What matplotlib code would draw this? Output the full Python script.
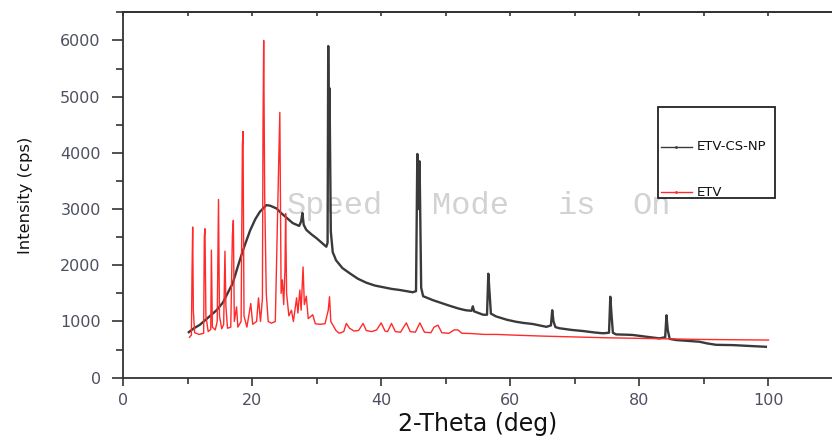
import matplotlib
matplotlib.use("Agg")
import matplotlib.pyplot as plt
from matplotlib.patches import Rectangle
from matplotlib.ticker import MultipleLocator

plt.rcParams["font.family"] = ["DejaVu Sans"]

# ETV-CS-NP pattern (2-theta, counts)
np_x = [10.2, 11.0, 11.9, 13.0, 14.5, 15.5, 16.2, 17.0, 17.8, 18.6, 19.7, 20.5,
        21.2, 22.2, 22.8, 23.8, 24.5, 25.3, 26.3, 27.3, 27.6, 27.8, 28.0, 28.4,
        29.2, 30.0, 31.0, 31.5, 31.7, 31.8, 31.9, 32.0, 32.2, 32.5, 32.8, 33.0,
        34.0, 35.1, 36.4, 37.7, 39.0, 40.3, 41.6, 42.9, 44.9, 45.4, 45.6, 45.8,
        45.95, 46.2, 46.5, 48.0, 49.3, 50.6, 52.0, 53.1, 54.0, 54.2, 54.4, 55.8,
        56.4, 56.6, 56.8, 57.0, 57.8, 59.5, 60.9, 62.0, 63.5, 65.6, 66.3, 66.5,
        66.7, 67.0, 67.6, 69.5, 71.3, 73.0, 74.4, 75.3, 75.5, 75.7, 75.9, 76.4,
        78.0, 79.0, 81.0, 83.1, 84.0, 84.2, 84.4, 84.7, 85.7, 87.5, 89.3, 90.5,
        91.9, 94.5, 97.0, 99.6]
np_y = [810, 880, 940, 1050, 1200, 1340, 1500, 1680, 1980, 2270, 2620, 2820,
        2950, 3070, 3060, 3010, 2930, 2850, 2750, 2700, 2780, 2930, 2720, 2630,
        2550, 2480, 2380, 2330, 2400, 5900, 4000, 5150, 2600, 2230, 2150, 2090,
        1950, 1860, 1760, 1690, 1640, 1610, 1580, 1560, 1520, 1540, 3980, 3000,
        3850, 1600, 1450, 1380, 1330, 1280, 1230, 1200, 1190, 1270, 1180, 1120,
        1120, 1850, 1500, 1140, 1090, 1030, 995, 975, 955, 905, 930, 1200,
        1000, 900, 880, 850, 830, 805, 790, 800, 1440, 1100, 800, 770,
        765, 760, 730, 700, 720, 1110, 850, 690, 670, 655, 640, 610,
        585, 580, 565, 550]

# ETV pattern
etv_x = [10.3, 10.6, 10.7, 10.8, 10.9, 11.1, 11.8, 12.5, 12.6, 12.7, 12.85, 13.2,
         13.6, 13.7, 13.85, 14.3, 14.6, 14.8, 14.95, 15.3, 15.6, 15.8, 15.95, 16.2,
         16.7, 16.95, 17.1, 17.25, 17.6, 17.8, 18.3, 18.5, 18.6, 18.75, 19.2, 19.8,
         20.1, 20.7, 21.0, 21.3, 21.6, 21.7, 21.8, 21.95, 22.2, 22.5, 23.0, 23.6,
         24.1, 24.3, 24.5, 24.7, 24.9, 25.1, 25.2, 25.35, 25.7, 26.1, 26.4, 26.9,
         27.1, 27.4, 27.6, 27.9, 28.1, 28.4, 28.7, 29.4, 29.8, 30.5, 31.3, 31.8,
         32.0, 32.2, 33.0, 33.5, 34.2, 34.6, 35.1, 35.8, 36.5, 37.2, 37.7, 38.5,
         39.3, 40.0, 40.6, 41.0, 41.6, 42.2, 43.0, 43.9, 44.5, 45.3, 46.0, 46.7,
         47.7, 48.2, 48.8, 49.4, 50.5, 51.3, 51.9, 52.5, 54.0, 56.0, 58.0, 60.0,
         65.0, 70.0, 75.0, 80.0, 85.0, 90.0, 95.0, 100.0]
etv_y = [720, 760, 1880, 2680, 1200, 800, 770, 790, 2500, 2650, 1100, 820,
         860, 2270, 900, 850, 1000, 3170, 1100, 870, 950, 2250, 1260, 880,
         900, 2530, 2800, 1000, 1260, 900, 1000, 4130, 4380, 1100, 900, 1320,
         950, 1000, 1420, 1000, 1400, 4530, 6000, 3280, 1500, 1000, 970, 1000,
         3690, 4720, 1500, 1740, 1300, 1930, 2920, 1500, 1100, 1200, 1000, 1420,
         1150, 1560, 1200, 1970, 1300, 1450, 1050, 1120, 960, 950, 960, 1200,
         1440, 1000, 840, 790, 820, 965, 880, 830, 840, 965, 840, 820,
         850, 975, 830, 820, 965, 820, 810, 975, 820, 810, 975, 810,
         800, 900, 935, 800, 790, 850, 850, 790, 785, 770, 770, 760,
         740, 725, 710, 700, 690, 680, 675, 670]

series_labels = ["ETV-CS-NP", "ETV"]
watermark_words = ["Speed", "Mode", "is", "On"]

tick_col = "#4d5060"
axis_col = "#333333"

fig = plt.figure(figsize=(8.32, 4.36), dpi=100)
ax = fig.add_axes([0.1478, 0.1337, 0.8534, 0.8381])

ax.plot(np_x, np_y, color="#3a3a3a", lw=1.7, zorder=2)
ax.plot(etv_x, etv_y, color="#ff2a2a", lw=1.0, zorder=3)

ax.set_xlim(0, 110)
ax.set_ylim(0, 6500)
ax.xaxis.set_major_locator(MultipleLocator(20))
ax.xaxis.set_minor_locator(MultipleLocator(10))
ax.yaxis.set_major_locator(MultipleLocator(1000))
ax.yaxis.set_minor_locator(MultipleLocator(500))

ax.tick_params(axis="x", which="major", direction="out", length=6, width=1.2,
               pad=5, labelsize=11.5, labelcolor=tick_col, color=axis_col)
ax.tick_params(axis="x", which="minor", direction="out", length=4, width=1.2, color=axis_col)
ax.tick_params(axis="y", which="major", direction="out", length=8, width=1.2,
               pad=8, labelsize=11.5, labelcolor=tick_col, color=axis_col)
ax.tick_params(axis="y", which="minor", direction="out", length=5, width=1.2, color=axis_col)

for side in ["left", "bottom", "top"]:
    ax.spines[side].set_color(axis_col)
    ax.spines[side].set_linewidth(1.3)
ax.spines["right"].set_visible(False)

# inward ticks along the top frame
top = ax.secondary_xaxis("top")
top.xaxis.set_major_locator(MultipleLocator(10))
top.tick_params(axis="x", direction="in", length=3, width=1.2, color=axis_col, labeltop=False)
top.spines["top"].set_color(axis_col)
top.spines["top"].set_linewidth(1.3)

ax.set_xlabel("2-Theta (deg)", fontsize=17, color="#111111")
ax.xaxis.set_label_coords(0.5, -0.094)
ax.set_ylabel("Intensity (cps)", fontsize=11.8, color="#111111")
ax.yaxis.set_label_coords(-0.127, 0.5)

# watermark from the instrument software
for word, px in zip(watermark_words, [287, 432, 558, 632]):
    ax.text(px / 832, 1 - 206 / 436, word, transform=fig.transFigure,
            family="Liberation Mono", fontsize=23, color="#d2d2d2",
            ha="left", va="center", zorder=1)

# legend box
ax.add_patch(Rectangle((0.7535, 0.4918), 0.1648, 0.249, transform=ax.transAxes,
                       facecolor="white", edgecolor="#222222", lw=1.3, zorder=4))
for lab, yy, col in zip(series_labels, [0.6314, 0.5082], ["#3a3a3a", "#ff2a2a"]):
    ax.plot([0.7577, 0.8014], [yy, yy], transform=ax.transAxes, color=col,
            lw=1.0, zorder=5)
    ax.plot([0.7795], [yy], transform=ax.transAxes, color=col, marker=".",
            ms=2, zorder=5)
    ax.text(0.8085, yy, lab, transform=ax.transAxes, fontsize=9.5,
            color="#111111", ha="left", va="center", zorder=5)

fig.savefig("out.png", dpi=100)
